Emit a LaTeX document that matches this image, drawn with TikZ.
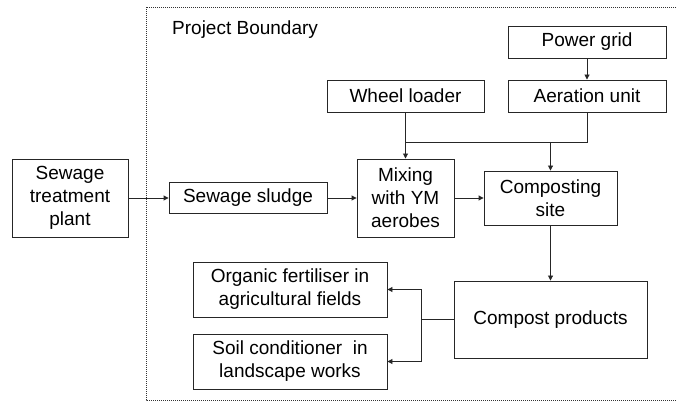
\documentclass[tikz,border=0pt]{standalone}
\usepackage{fontspec}
\setmainfont{Liberation Sans}
\usetikzlibrary{arrows.meta}
\begin{document}
\begin{tikzpicture}[x=1pt,y=1pt,
  box/.style={draw=black!85,line width=0.9pt,align=center,inner sep=0pt,
    font=\fontsize{19}{23}\selectfont},
  conn/.style={draw=black!85,line width=0.9pt},
  arr/.style={conn,-{Triangle[length=5pt,width=5pt]}}]
\useasboundingbox (0,0) rectangle (676,401);
% boundary
\draw[line width=0.9pt,dash pattern=on 1pt off 1pt,black!80] (676,394) -- (146,394) -- (146,1) -- (676,1);
\node[anchor=west,inner sep=0pt,font=\fontsize{19}{23}\selectfont] (pb) at (172,371) {Project Boundary};
% boxes
\node[box,minimum width=116pt,minimum height=78pt] (stp) at (70,203) {Sewage\\treatment\\plant};
\node[box,minimum width=158pt,minimum height=31pt] (ss) at (248,203) {Sewage sludge};
\node[box,minimum width=157pt,minimum height=32pt] (wl) at (405.5,305) {Wheel loader};
\node[box,minimum width=158pt,minimum height=32pt] (pg) at (587,359) {Power grid};
\node[box,minimum width=158pt,minimum height=32pt] (au) at (587,305) {Aeration unit};
\node[box,minimum width=97pt,minimum height=78pt] (mx) at (405.5,203) {Mixing\\with YM\\aerobes};
\node[box,minimum width=133pt,minimum height=54pt] (cs) at (550.5,203) {Composting\\site};
\node[box,minimum width=193pt,minimum height=77pt] (cp) at (550.5,81.5) {Compost products};
\node[box,minimum width=194pt,minimum height=55pt] (of) at (290,111.5) {Organic fertiliser in\\agricultural fields};
\node[box,minimum width=194pt,minimum height=55pt] (sc) at (290,39.5) {Soil conditioner~~in\\landscape works};
% junctions
\coordinate (j1) at (405.5,259);
\coordinate (j2) at (587,259);
\coordinate (j3) at (550.5,259);
\coordinate (b1) at (421,81.5);
% connectors
\draw[arr] (stp) -- (ss);
\draw[arr] (ss) -- (mx);
\draw[arr] (mx) -- (cs);
\draw[arr] (pg) -- (au);
\draw[conn] (wl.south) -- (j1) -- (j2) -- (au.south);
\draw[arr] (j1) -- (mx.north);
\draw[arr] (j3) -- (cs.north);
\draw[arr] (cs) -- (cp);
\draw[conn] (cp.west) -- (b1);
\draw[arr] (b1) |- (of.east);
\draw[arr] (b1) |- (sc.east);
\end{tikzpicture}
\end{document}
